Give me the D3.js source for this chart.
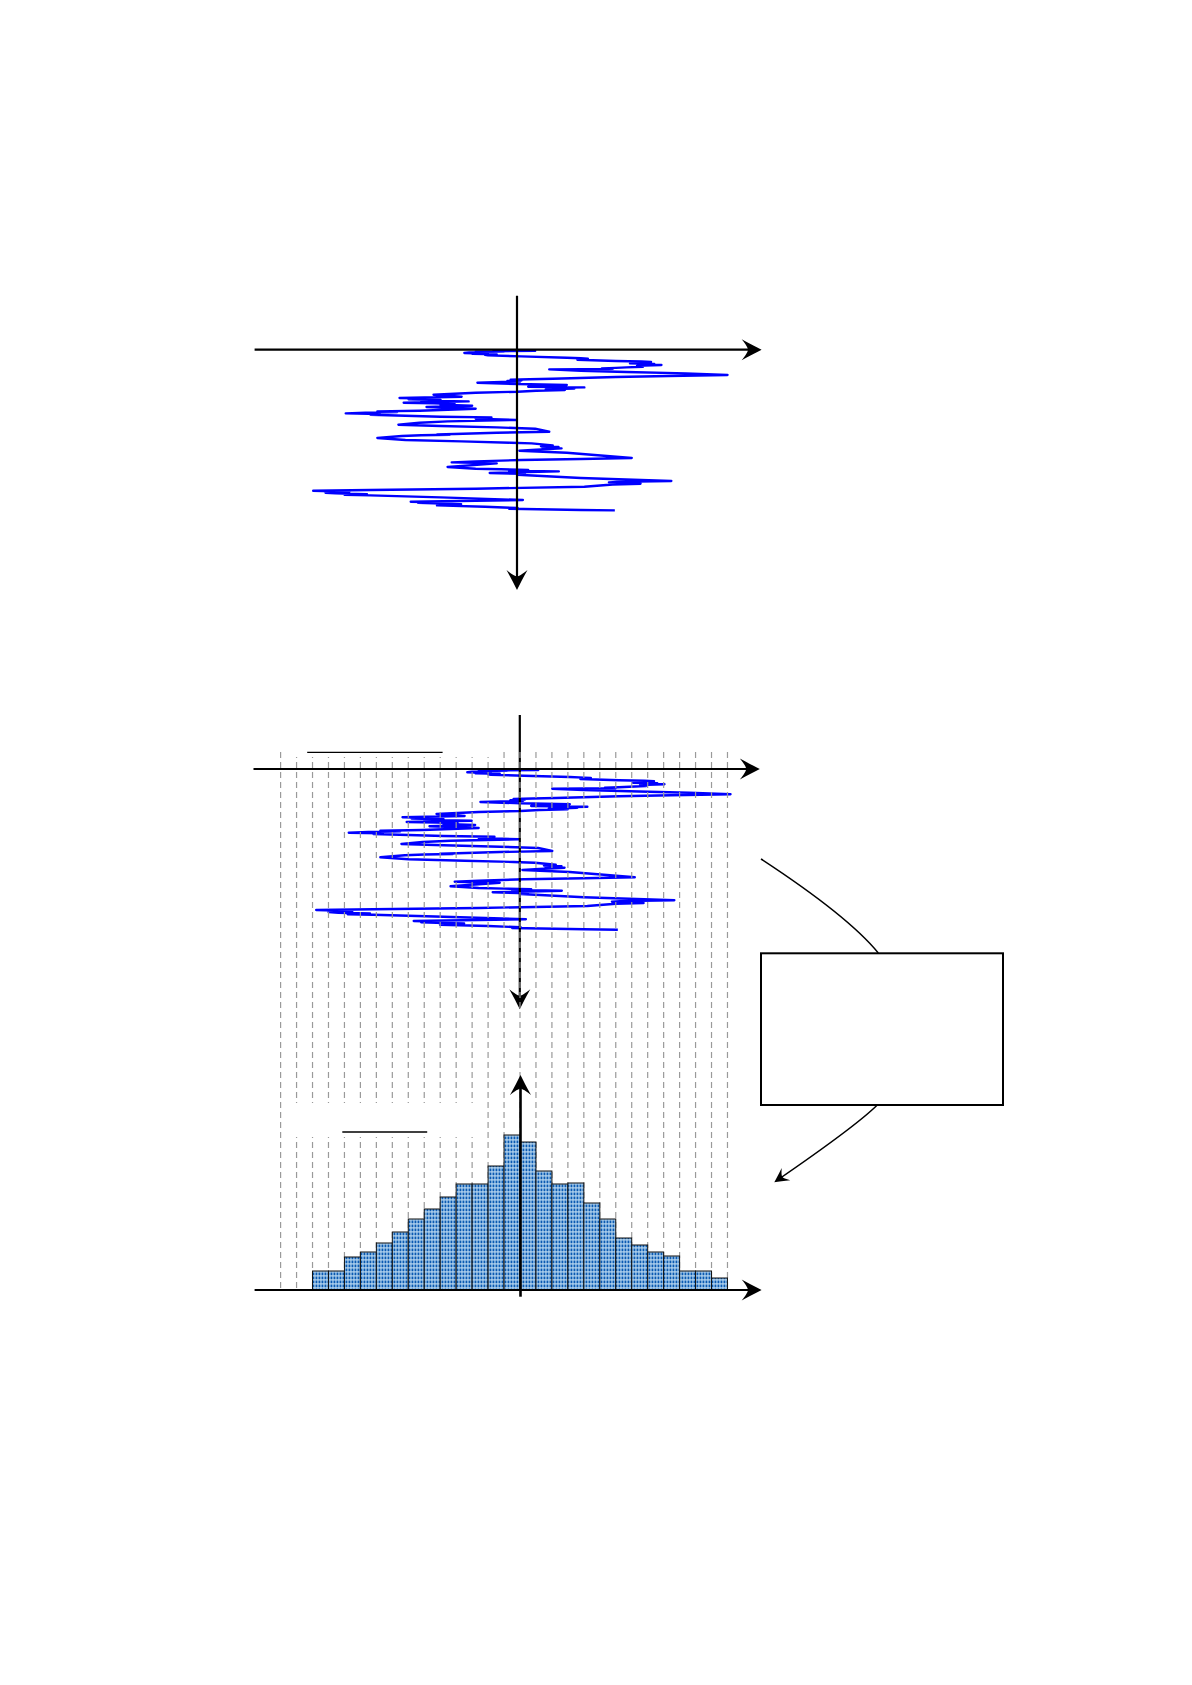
<!DOCTYPE html>
<html>
<head>
<meta charset="utf-8">
<script src="https://cdn.jsdelivr.net/npm/d3@7"></script>
<style>
  body { margin: 0; background: #fff; }
</style>
</head>
<body>
<script>
// ----- data -----
// random walk: time step (downwards) and position (in bin widths)
var walkStep = [0.7, 1.0, 1.5, 1.8, 2.0, 2.5, 2.8, 3.3, 3.8, 4.2, 4.7, 5.2, 5.7, 6.7, 8.0, 8.6, 9.0, 10.0,
  11.3, 11.8, 12.3, 12.8, 13.2, 13.7, 14.3, 14.8, 15.3, 15.8, 16.3, 17.0, 17.7, 18.2, 18.7, 19.2, 19.7,
  21.0, 22.3, 23.7, 25.3, 26.3, 27.3, 29.0, 29.5, 30.0, 30.6, 31.2, 31.8, 33.0, 34.3, 35.3, 35.8, 36.3,
  37.0, 37.7, 38.2, 38.8, 39.7, 40.3, 41.0, 42.0, 43.0, 45.0, 47.0, 48.3, 48.9, 49.5, 50.3, 51.0, 51.7,
  52.3, 53.0, 53.6, 54.3, 55.0, 56.0, 57.3, 58.0, 59.0, 61.0, 61.7, 62.3, 63.0, 63.7, 64.3, 65.0, 67.0,
  67.7, 69.0, 70.3, 71.7, 73.0, 75.0, 76.3, 77.7, 79.0, 82.0, 83.0, 84.3, 84.7, 85.0, 85.5, 86.3, 88.3,
  90.3, 91.7, 93.0, 93.7, 95.7, 96.5, 97.3, 98.0, 98.7, 100.0, 101.0, 103.0, 108.3, 109.3, 110.3, 111.7,
  112.7, 113.7, 117.3, 119.0, 119.6, 120.3, 121.0, 121.7, 123.3, 124.2, 125.0, 128.3, 131.3, 132.0,
  132.7, 133.3, 134.0, 134.8, 137.0, 139.0, 140.3, 141.0, 142.0, 143.0, 143.7, 144.5, 145.2, 145.7,
  147.7, 150.3, 151.0, 152.0, 152.7, 153.2, 153.7, 154.5, 155.0, 155.7, 157.0, 158.3, 159.0, 160.3, 160.7];
var walkPos = [0.00, 1.14, -1.5, -0.8, -2.59, -1.8, -3.0, -3.30, -2.2, -2.8, -1.27, -2.0, -1.82, 0.26, 3.12, 4.0, 4.44, 3.78,
  6.20, 7.8, 8.40, 7.4, 8.2, 7.08, 8.6, 7.6, 9.05, 8.0, 7.52, 7.9, 6.86, 6.2, 5.32, 6.0, 2.02,
  4.00, 6.86, 10.59, 13.19, 9.49, 6.20, 2.24, 0.8, -0.40, 0.3, -0.6, 0.2, -2.48, 0.04, 3.12, 1.5, 2.8,
  0.70, 4.22, 2.5, 3.6, 1.80, 3.0, 1.2, 0.04, -2.59, -5.23, -3.47, -7.36, -5.5, -6.8, -4.79, -6.0, -3.03,
  -5.0, -7.10, -5.2, -3.91, -4.8, -2.81, -5.67, -4.2, -2.59, -6.11, -8.75, -7.5, -9.5, -10.73, -8.6, -9.19, -4.79,
  -1.60, -2.59, -0.07, -4.35, -6.11, -7.43, -4.79, -1.27, 1.14, 2.02, -1.27, -3.91, -5.0, -4.2, -6.00, -7.21, -8.75,
  -6.99, -3.47, -0.40, 0.92, 2.24, 1.5, 2.6, 1.6, 2.79, 1.2, 0.15, 3.12, 7.19, 4.00, 0.26, -2.59,
  -4.09, -1.27, -4.35, -2.59, -1.0, 0.70, -0.5, 2.62, -1.71, 0.5, 0.04, 4.00, 9.67, 6.5,
  5.76, 7.4, 7.74, 6.0, 4.22, -2.59, -9.19, -12.77, -10.5, -12.0, -11.38, -9.4, -10.8, -9.19,
  -4.79, 0.37, -2.59, -6.66, -5.0, -6.2, -5.23, -3.5, -4.8, -5.01, -2.0, 0.04, -0.5, 4.00, 6.13];

// histogram of positions
var binLeft = [-13, -12, -11, -10, -9, -8, -7, -6, -5, -4, -3, -2, -1, 0, 1, 2, 3, 4, 5, 6, 7, 8, 9, 10, 11, 12];
var binFreq = [19, 19, 33, 38, 47, 58, 71, 81, 93, 106, 106, 124, 155, 148, 119, 106, 107, 87, 71, 52, 45, 38, 34, 19, 19, 12];

// dashed guide lines at the bin edges
var gridEdges = d3.range(-15, 14);

// ----- stage -----
var width = 1192, height = 1685;
var svg = d3.select("body").append("svg")
  .attr("width", width)
  .attr("height", height);

var defs = svg.append("defs");
var pat = defs.append("pattern")
  .attr("id", "dots")
  .attr("patternUnits", "userSpaceOnUse")
  .attr("width", 3)
  .attr("height", 4);
pat.append("rect").attr("width", 3).attr("height", 4).attr("fill", "#bcdaf2");
pat.append("rect").attr("x", 0.5).attr("y", 0.5).attr("width", 1.9).attr("height", 2.8).attr("fill", "#0a5ab2");

var binW = 15.96;
var walk = walkStep.map(function(t, i) { return [t, walkPos[i]]; });

// arrow head, tip at (0,0) pointing along +x
function arrowHead(g, x, y, angle, s) {
  g.append("path")
    .attr("d", "M0,0 C-5,-2.5 -12,-6 -19,-10 C-15,-5 -13,-2 -13,0 C-13,2 -15,5 -19,10 C-12,6 -5,2.5 0,0Z")
    .attr("transform", "translate(" + x + "," + y + ") rotate(" + angle + ") scale(" + s + ")")
    .attr("fill", "#000");
}

function axisLine(g, x1, y1, x2, y2, w) {
  g.append("line")
    .attr("x1", x1).attr("y1", y1).attr("x2", x2).attr("y2", y2)
    .attr("stroke", "#000").attr("stroke-width", w);
}

// =======================================================
// 1. top panel: the walk alone
// =======================================================
var x0Top = 517;
var xTop = d3.scaleLinear().domain([-15, 13]).range([x0Top - 15 * binW, x0Top + 13 * binW]);
var yTop = d3.scaleLinear().domain([0, 161]).range([349.7, 510.7]);
var gTop = svg.append("g");

gTop.append("path")
  .datum(walk)
  .attr("d", d3.line().x(function(d) { return xTop(d[1]); }).y(function(d) { return yTop(d[0]); }))
  .attr("fill", "none")
  .attr("stroke", "#0000ff")
  .attr("stroke-width", 2.4)
  .attr("stroke-linejoin", "round");

axisLine(gTop, 254.6, yTop(0), 758, yTop(0), 2.2);
arrowHead(gTop, 761.6, yTop(0), 0, 1.05);
axisLine(gTop, x0Top, 295.7, x0Top, 587, 2.2);
arrowHead(gTop, x0Top, 590, 90, 1.05);

// =======================================================
// 2. middle panel: the walk with bin edges
// =======================================================
var x0Mid = 520;
var xMid = d3.scaleLinear().domain([-15, 13]).range([x0Mid - 15 * binW, x0Mid + 13 * binW]);
var yMid = d3.scaleLinear().domain([0, 161]).range([769, 930]);
var gMid = svg.append("g");

gMid.append("path")
  .datum(walk)
  .attr("d", d3.line().x(function(d) { return xMid(d[1]); }).y(function(d) { return yMid(d[0]); }))
  .attr("fill", "none")
  .attr("stroke", "#0000ff")
  .attr("stroke-width", 2.4)
  .attr("stroke-linejoin", "round");

// bin edge guides run down through the histogram
svg.append("g").selectAll("line")
  .data(gridEdges)
  .enter().append("line")
  .attr("x1", function(d) { return xMid(d); })
  .attr("x2", function(d) { return xMid(d); })
  .attr("y1", 752)
  .attr("y2", 1290)
  .attr("stroke", "#9a9a9a")
  .attr("stroke-width", 1.2)
  .attr("stroke-dasharray", "6,4");

// blank label areas
svg.append("rect").attr("x", 288).attr("y", 740).attr("width", 208).attr("height", 17).attr("fill", "#fff");
svg.append("rect").attr("x", 289).attr("y", 1103).attr("width", 193).attr("height", 34).attr("fill", "#fff");
axisLine(svg, 307.2, 752.3, 442.6, 752.3, 1.3);
axisLine(svg, 342.3, 1132, 427.2, 1132, 1.3);

axisLine(gMid, 253.5, yMid(0), 756, yMid(0), 2.2);
arrowHead(gMid, 759.8, yMid(0), 0, 1.05);
axisLine(gMid, 519.8, 715, 519.8, 1006, 2.2);
arrowHead(gMid, 519.8, 1009.3, 90, 1.05);

// =======================================================
// 3. bottom panel: histogram
// =======================================================
var xBot = xMid;
var yBot = d3.scaleLinear().domain([0, 155]).range([1290, 1135]);
var gBot = svg.append("g");

gBot.selectAll("rect.bar")
  .data(binLeft)
  .enter().append("rect")
  .attr("class", "bar")
  .attr("x", function(d) { return xBot(d); })
  .attr("width", function(d) { return xBot(d + 1) - xBot(d); })
  .attr("y", function(d, i) { return yBot(binFreq[i]); })
  .attr("height", function(d, i) { return yBot(0) - yBot(binFreq[i]); })
  .attr("fill", "url(#dots)")
  .attr("stroke", "#111")
  .attr("stroke-width", 1);

axisLine(gBot, 254.6, 1290, 758, 1290, 2.2);
arrowHead(gBot, 761.6, 1290, 0, 1.05);
axisLine(gBot, 520.5, 1296.7, 520.5, 1078, 2.6);
arrowHead(gBot, 520.5, 1075, -90, 1.05);

// =======================================================
// 4. callout box
// =======================================================
var gNote = svg.append("g");
gNote.append("path")
  .attr("d", "M761,859 Q848,916 878.3,953")
  .attr("fill", "none").attr("stroke", "#000").attr("stroke-width", 1.5);
gNote.append("rect")
  .attr("x", 761).attr("y", 953.3).attr("width", 242).attr("height", 151.7)
  .attr("fill", "#fff").attr("stroke", "#000").attr("stroke-width", 2);
gNote.append("path")
  .attr("d", "M877.3,1105 Q856,1126 779,1179")
  .attr("fill", "none").attr("stroke", "#000").attr("stroke-width", 1.5);
arrowHead(gNote, 774.3, 1182.3, 145, 0.75);
</script>
</body>
</html>
